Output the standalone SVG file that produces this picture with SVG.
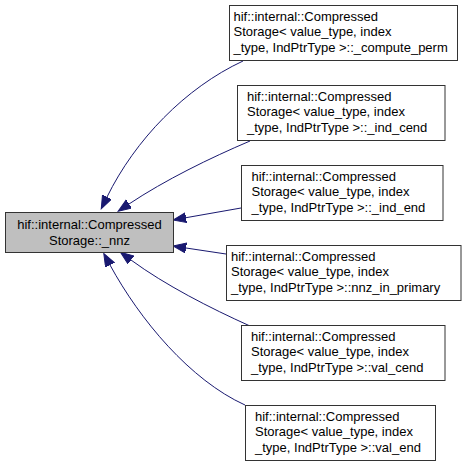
<svg xmlns="http://www.w3.org/2000/svg" width="465" height="467" viewBox="0 0 465 467">
<defs>
<marker id="ah" markerUnits="userSpaceOnUse" markerWidth="16" markerHeight="12" refX="0" refY="5" orient="auto">
<path d="M0,0 L13,5 L0,10 z" fill="#191970" stroke="#191970" stroke-width="1"/>
</marker>
<style>
.n rect{fill:#ffffff;stroke:#333333;stroke-width:1}
.m rect{fill:#bfbfbf;stroke:#333333;stroke-width:1}
text{font-family:"Liberation Sans",Arial,sans-serif;font-size:13px;fill:#000000}
.e path{fill:none;stroke:#191970;stroke-width:1;marker-end:url(#ah)}
</style>
</defs>
<rect width="465" height="467" fill="#ffffff"/>
<g class="e" id="edges">
<path d="M243,61 C185,88 135,140 107,197"/>
<path d="M250,141 C210,158 165,180 129,204"/>
<path d="M241,208 L186,217.7"/>
<path d="M226,254 L186,248"/>
<path d="M250,326 C210,308 165,285 131,260"/>
<path d="M245,405 C190,380 140,320 110,265"/>
</g>
<g class="m" id="main">
<rect x="5.5" y="212.5" width="168" height="40"/>
<text x="89.5" y="229" text-anchor="middle">hif::internal::Compressed</text>
<text x="89.5" y="244.5" text-anchor="middle">Storage::_nnz</text>
</g>
<g class="n" id="n1">
<rect x="229.5" y="5.5" width="228" height="55"/>
<text x="233.5" y="20.5">hif::internal::Compressed</text>
<text x="233.5" y="36">Storage&lt; value_type, index</text>
<text x="233.5" y="51.5">_type, IndPtrType &gt;::_compute_perm</text>
</g>
<g class="n" id="n2">
<rect x="237.5" y="85.5" width="207.5" height="55"/>
<text x="247" y="100.5">hif::internal::Compressed</text>
<text x="247" y="116">Storage&lt; value_type, index</text>
<text x="247" y="131.5">_type, IndPtrType &gt;::_ind_cend</text>
</g>
<g class="n" id="n3">
<rect x="241.5" y="165.5" width="201.5" height="55"/>
<text x="251.5" y="180.5">hif::internal::Compressed</text>
<text x="251.5" y="196">Storage&lt; value_type, index</text>
<text x="251.5" y="211.5">_type, IndPtrType &gt;::_ind_end</text>
</g>
<g class="n" id="n4">
<rect x="226.5" y="245.5" width="234.5" height="55"/>
<text x="231" y="260.5">hif::internal::Compressed</text>
<text x="231" y="276">Storage&lt; value_type, index</text>
<text x="231" y="291.5">_type, IndPtrType &gt;::nnz_in_primary</text>
</g>
<g class="n" id="n5">
<rect x="241.5" y="325.5" width="203.5" height="55"/>
<text x="251" y="340.5">hif::internal::Compressed</text>
<text x="251" y="356">Storage&lt; value_type, index</text>
<text x="251" y="371.5">_type, IndPtrType &gt;::val_cend</text>
</g>
<g class="n" id="n6">
<rect x="245.5" y="405.5" width="190" height="55"/>
<text x="255" y="420.5">hif::internal::Compressed</text>
<text x="255" y="436">Storage&lt; value_type, index</text>
<text x="255" y="451.5">_type, IndPtrType &gt;::val_end</text>
</g>
</svg>
